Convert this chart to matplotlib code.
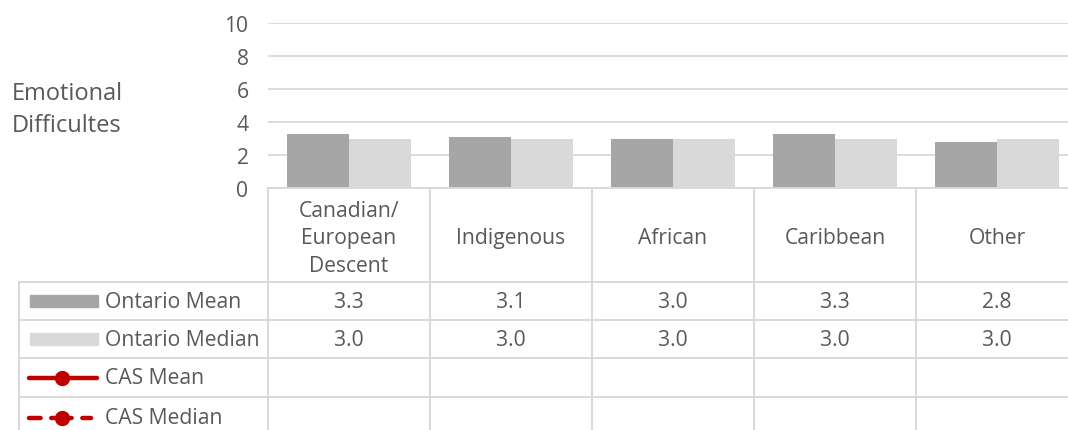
import matplotlib.pyplot as plt
import matplotlib.transforms as mtransforms
from matplotlib.lines import Line2D
from matplotlib.patches import Rectangle

categories = ['Canadian/\nEuropean\nDescent', 'Indigenous', 'African', 'Caribbean', 'Other']
ontario_mean = [3.3, 3.1, 3.0, 3.3, 2.8]
ontario_median = [3.0, 3.0, 3.0, 3.0, 3.0]
row_labels = ['Ontario Mean', 'Ontario Median', 'CAS Mean', 'CAS Median']
yticks = [0, 2, 4, 6, 8, 10]

W, H = 1068, 431
TXT = '#595959'
GRID = '#d9d9d9'
DARK = '#a6a6a6'
LIGHT = '#d9d9d9'
RED = '#c00000'
FONT = 'Open Sans'
FS = 15.2

plt.rcParams['font.family'] = [FONT, 'DejaVu Sans']

fig = plt.figure(figsize=(W / 100, H / 100), dpi=100)


def fx(px):
    return px / W


def fy(py):
    return 1 - py / H


# plot area in pixels
left, right, top, bottom = 268, 1078, 24, 189
ax = fig.add_axes([fx(left), fy(bottom), fx(right - left), fy(top) - fy(bottom)])
n = len(categories)
xs = list(range(n))
bw = 0.383
ax.bar([x - bw / 2 for x in xs], ontario_mean, width=bw, color=DARK, zorder=2)
ax.bar([x + bw / 2 for x in xs], ontario_median, width=bw, color=LIGHT, zorder=2)
ax.set_xlim(-0.5, n - 0.5)
ax.set_ylim(0, 10)
ax.set_yticks(yticks)
ax.set_yticklabels([str(t) for t in yticks], fontsize=FS, color=TXT)
ax.tick_params(axis='y', length=0, pad=14)
ax.set_xticks([])
ax.grid(axis='y', color=GRID, linewidth=1.3, zorder=0)
for s in ax.spines.values():
    s.set_visible(False)

fig.text(fx(12), fy(110), 'Emotional\nDifficultes', fontsize=17, color=TXT,
         ha='left', va='center', linespacing=1.42)

# data table
trans = mtransforms.blended_transform_factory(ax.transData, fig.transFigure)
row_y = [189, 283, 321, 359, 398, 440]
tab_left = 19

lk = dict(color=GRID, linewidth=1.4, clip_on=False)
# vertical category lines
for b in [x - 0.5 for x in xs] + [n - 0.5]:
    fig.add_artist(Line2D([b, b], [fy(row_y[0]), fy(row_y[-1])], transform=trans, **lk))
# left edge of legend column
fig.add_artist(Line2D([fx(tab_left)] * 2, [fy(row_y[1]), fy(row_y[-1])],
                      transform=fig.transFigure, **lk))
# horizontal lines
for yy in row_y[1:-1]:
    fig.add_artist(Line2D([fx(tab_left), 1.05], [fy(yy)] * 2, transform=fig.transFigure, **lk))
fig.add_artist(Line2D([fx(left), 1.05], [fy(row_y[0])] * 2, transform=fig.transFigure, **lk))

# header labels
for x, c in zip(xs, categories):
    fig.text(x, fy((row_y[0] + row_y[1]) / 2 + 3), c, transform=trans, ha='center',
             va='center', fontsize=FS, color=TXT, linespacing=1.4)

# value rows
for r, vals in enumerate([ontario_mean, ontario_median]):
    yc = fy((row_y[r + 1] + row_y[r + 2]) / 2)
    for x, v in zip(xs, vals):
        fig.text(x, yc, f'{v:.1f}', transform=trans, ha='center', va='center',
                 fontsize=FS, color=TXT)

# legend keys and row labels
for r, lab in enumerate(row_labels):
    yc = (row_y[r + 1] + row_y[r + 2]) / 2
    if r < 2:
        fig.add_artist(Rectangle((fx(30), fy(yc + 6)), fx(68), fy(yc - 6) - fy(yc + 6),
                                 transform=fig.transFigure, color=[DARK, LIGHT][r]))
    else:
        if r == 2:
            x0, x1, ls = 29, 97, '-'
        else:
            x0, x1, ls = 29, 91, (0, (2.6, 2.4, 4.6, 2.4, 2.6, 10))
        fig.add_artist(Line2D([fx(x0), fx(x1)], [fy(yc)] * 2, transform=fig.transFigure,
                              color=RED, linewidth=3.2, linestyle=ls, solid_capstyle='round',
                              dash_capstyle='round'))
        fig.add_artist(Line2D([fx(62)], [fy(yc)], transform=fig.transFigure, color=RED,
                              marker='o', markersize=10, linestyle='none'))
    fig.text(fx(105), fy(yc), lab, ha='left', va='center', fontsize=FS, color=TXT)

fig.savefig('out.png', dpi=100)
